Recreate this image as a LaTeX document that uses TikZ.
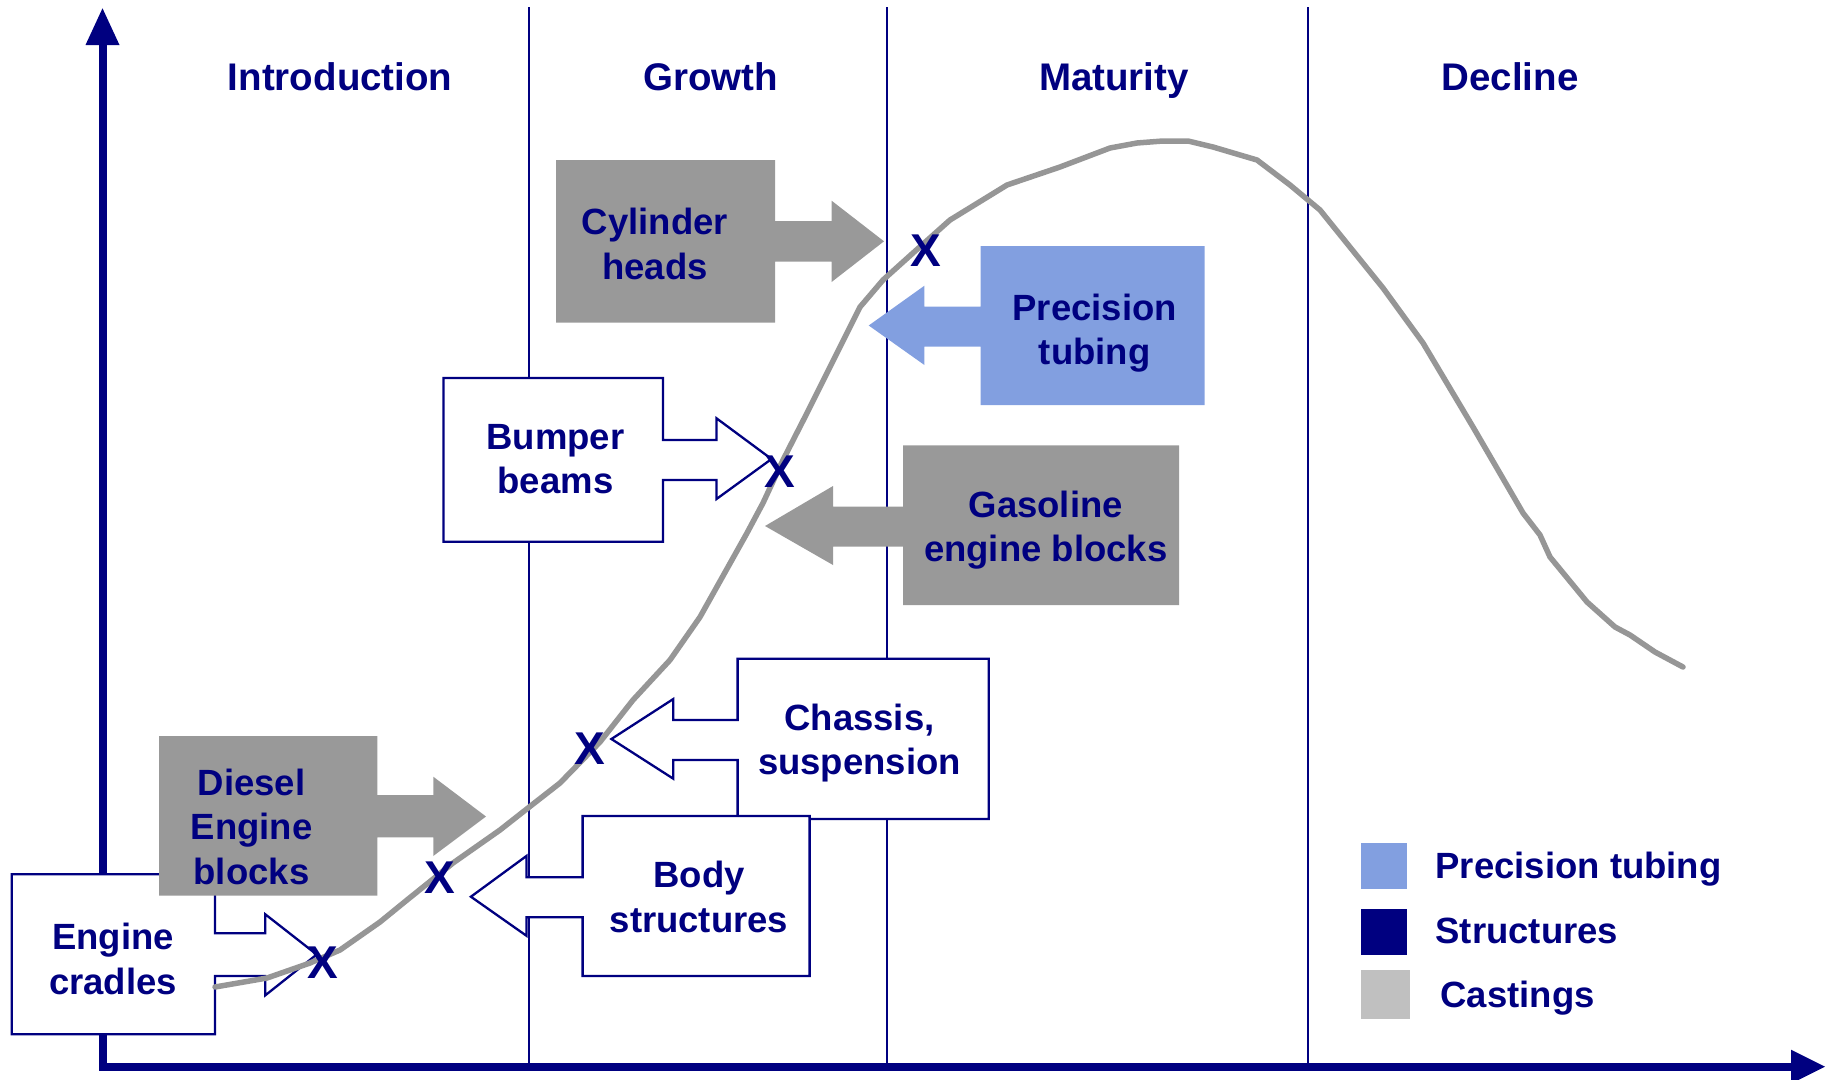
\documentclass[tikz,border=0pt]{standalone}
\usepackage{fontspec}
\setmainfont{Liberation Sans}
\usetikzlibrary{calc}

\definecolor{navy}{RGB}{0,0,128}
\definecolor{castgray}{RGB}{153,153,153}
\definecolor{tubeblue}{RGB}{130,159,224}
\definecolor{curvegray}{RGB}{150,150,150}
\definecolor{legendgray}{RGB}{192,192,192}

\newcommand\lblfont{\fontsize{36.5}{44.5}\selectfont\bfseries}
\newcommand\phasefont{\fontsize{38.5}{46}\selectfont\bfseries}
\newcommand\crossfont{\fontsize{46}{52}\selectfont\bfseries}

\begin{document}
\begin{tikzpicture}[x=1pt, y=-1pt,
  lbl/.style={font=\lblfont, text=navy, align=center, inner sep=0pt},
  phase/.style={font=\phasefont, text=navy, inner sep=0pt, anchor=base},
  legtext/.style={font=\lblfont, text=navy, inner sep=0pt, anchor=base west},
  xmark/.style={font=\crossfont, text=navy, inner sep=0pt},
  area/.style={inner sep=0pt, outer sep=0pt},
  divider/.style={draw=navy, line width=2pt},
  axis/.style={draw=navy, line width=8pt, line join=miter},
  outlined/.style={draw=navy, line width=2.3pt, fill=white, line join=miter},
  castshape/.style={fill=castgray},
  tubeshape/.style={fill=tubeblue},
  lifecurve/.style={draw=curvegray, line width=5.5pt, line join=round, line cap=round}]

\useasboundingbox (0,0) rectangle (1827,1079);

% phase dividers
\draw[divider] (529.4,7) -- (529.4,1066.7);
\draw[divider] (886.8,7) -- (886.8,1066.7);
\draw[divider] (1308,7) -- (1308,1066.7);

% axes
\coordinate (ytip) at (102.5,45);
\coordinate (origin) at (102.5,1066.7);
\coordinate (xtip) at (1791,1066.7);
\draw[axis] (ytip) -- (origin) -- (xtip);
\fill[navy] (85.5,45) -- (119.5,45) -- (102.5,8.3) -- cycle;
\fill[navy] (1791,1049.7) -- (1825,1066.7) -- (1791,1083.7) -- cycle;

% phase titles
\node[phase] (intro)    at (340.2,90.7) {Introduction};
\node[phase] (growth)   at (710.8,90.7) {Growth};
\node[phase] (maturity) at (1114,90.7)  {Maturity};
\node[phase] (decline)  at (1510,90.7)  {Decline};

% Cylinder heads
\node[area, minimum width=219pt, minimum height=162.7pt] (cyl) at (665.5,241.35) {};
\fill[castshape] (cyl.north west) -- (cyl.north east) -- (775,221) -- (831.6,221)
  -- (831.6,200.7) -- (884,241.3) -- (831.6,282) -- (831.6,261.7) -- (775,261.7)
  -- (cyl.south east) -- (cyl.south west) -- cycle;
\node[lbl] (cyltext) at (655,248.3) {\strut Cylinder\\\strut heads};

% Precision tubing
\node[area, minimum width=223.8pt, minimum height=159pt] (tube) at (1092.6,325.5) {};
\fill[tubeshape] (tube.north west) -- (tube.north east) -- (tube.south east)
  -- (tube.south west) -- (980.7,346.7) -- (924.4,346.7) -- (924.4,365)
  -- (868.7,325.5) -- (924.4,285.7) -- (924.4,306.7) -- (980.7,306.7) -- cycle;
\node[lbl] (tubetext) at (1094.7,333.6) {\strut Precision\\\strut tubing};

% Bumper beams
\node[area, minimum width=219.5pt, minimum height=163.7pt] (bump) at (553.25,459.85) {};
\draw[outlined] (bump.north west) -- (bump.north east) -- (663,440) -- (716.5,440)
  -- (716.5,418.3) -- (771.5,459) -- (716.5,499) -- (716.5,480) -- (663,480)
  -- (bump.south east) -- (bump.south west) -- cycle;
\node[lbl] (bumptext) at (555.5,462.8) {\strut Bumper\\\strut beams};

% Gasoline engine blocks
\node[area, minimum width=276pt, minimum height=159.7pt] (gas) at (1041,525.15) {};
\fill[castshape] (gas.north west) -- (gas.north east) -- (gas.south east)
  -- (gas.south west) -- (903,546.7) -- (833,546.7) -- (833,565)
  -- (765,526) -- (833,486) -- (833,506.7) -- (903,506.7) -- cycle;
\node[lbl] (gastext) at (1045.7,530.8) {\strut Gasoline\\\strut engine blocks};

% Chassis, suspension
\node[area, minimum width=251.1pt, minimum height=160.3pt] (chas) at (863.15,738.85) {};
\draw[outlined] (chas.north west) -- (chas.north east) -- (chas.south east)
  -- (chas.south west) -- (737.6,760) -- (673.3,760) -- (673.3,778.7)
  -- (611.4,739) -- (673.3,699) -- (673.3,720) -- (737.6,720) -- cycle;
\node[lbl] (chastext) at (859.5,743.6) {\strut Chassis,\\\strut suspension};

% Body structures
\node[area, minimum width=227pt, minimum height=160pt] (body) at (696.1,896) {};
\draw[outlined] (body.north west) -- (body.north east) -- (body.south east)
  -- (body.south west) -- (582.6,917.3) -- (526.4,917.3) -- (526.4,935.7)
  -- (470.9,896.7) -- (526.4,856) -- (526.4,877.3) -- (582.6,877.3) -- cycle;
\node[lbl] (bodytext) at (699,901.1) {\strut Body\\\strut structures};

% Engine cradles
\node[area, minimum width=203.3pt, minimum height=160pt] (crad) at (113.35,954.3) {};
\draw[outlined] (crad.north west) -- (crad.north east) -- (215,933.3) -- (265.3,933.3)
  -- (265.3,914.3) -- (316.7,954.5) -- (265.3,995.3) -- (265.3,976) -- (215,976)
  -- (crad.south east) -- (crad.south west) -- cycle;
\node[lbl] (cradtext) at (113,963.1) {\strut Engine\\\strut cradles};

% Diesel engine blocks
\node[area, minimum width=218.3pt, minimum height=159.7pt] (dies) at (268.15,815.85) {};
\fill[castshape] (dies.north west) -- (dies.north east) -- (377.3,795) -- (433.3,795)
  -- (433.3,776.7) -- (486,816.5) -- (433.3,856) -- (433.3,837.3) -- (377.3,837.3)
  -- (dies.south east) -- (dies.south west) -- cycle;
\node[lbl] (diestext) at (251.5,830.8) {\strut Diesel\\\strut Engine\\\strut blocks};

% product life cycle curve
\draw[lifecurve] (215,987) -- (267,978) -- (310,963) -- (340,950) -- (380,922)
  -- (407,900) -- (453,863) -- (500,830) -- (528,808) -- (560,783) -- (600,742)
  -- (633,700) -- (670,660) -- (700,617) -- (747,533) -- (763,503) -- (783,460)
  -- (807,413) -- (827,373) -- (840,347) -- (860,307) -- (883,280) -- (913,253)
  -- (950,220) -- (1007,185) -- (1060,167) -- (1110,148) -- (1137,143)
  -- (1163,141) -- (1188,141) -- (1213,147) -- (1257,160) -- (1290,185)
  -- (1320,210) -- (1383,288) -- (1423,343) -- (1473,427) -- (1523,513)
  -- (1540,535) -- (1550,557) -- (1587,602) -- (1615,627) -- (1630,635)
  -- (1655,652) -- (1683,667);

% crossing marks
\node[xmark] (x1) at (323,963) {X};
\node[xmark] (x2) at (440,878) {X};
\node[xmark] (x3) at (590,749) {X};
\node[xmark] (x4) at (780,472) {X};
\node[xmark] (x5) at (926,251) {X};

% legend
\node[area, fill=tubeblue, minimum width=46pt, minimum height=45.4pt] (legtube) at (1383.8,866) {};
\node[area, fill=navy, minimum width=46pt, minimum height=45.7pt] (legstruct) at (1383.8,931.9) {};
\node[area, fill=legendgray, minimum width=49pt, minimum height=48.7pt] (legcast) at (1385.35,994.35) {};
\node[legtext] (legtubetext) at (1435.4,878.3) {Precision tubing};
\node[legtext] (legstructtext) at (1435.4,943.3) {Structures};
\node[legtext] (legcasttext) at (1440.4,1007.3) {Castings};

\end{tikzpicture}
\end{document}
